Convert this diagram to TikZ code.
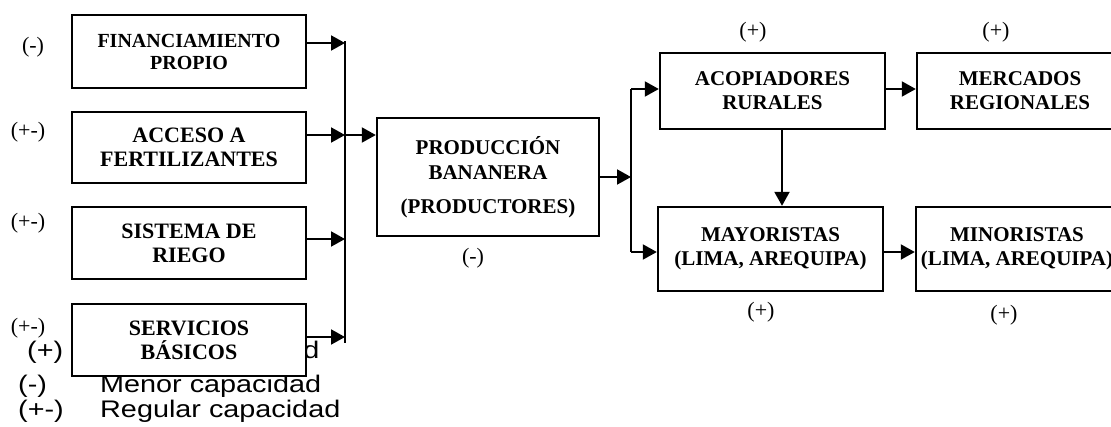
\documentclass[tikz,border=0pt]{standalone}
\usepackage{fontspec}
\setmainfont{Liberation Serif}
\newfontfamily\legendfont{Liberation Sans}
\usetikzlibrary{arrows.meta}

\tikzset{
  box/.style={draw, line width=2.4pt, fill=white, rectangle, inner sep=0pt,
    align=center, font=\bfseries\fontsize{21}{24}\selectfont},
  inbox/.style={box, minimum width=234pt, font=\bfseries\fontsize{22}{24}\selectfont},
  sign/.style={font=\fontsize{22}{24}\selectfont, inner sep=0pt},
  flow/.style={line width=2pt, -{Triangle[length=14pt,width=15pt]}},
  bar/.style={line width=2pt}
}

\begin{document}
\begin{tikzpicture}[x=1pt,y=-1pt]
\useasboundingbox (0,0) rectangle (1111,426);
\clip (0,0) rectangle (1111,426);

% Legend (drawn first, the last box sits over it)
\node[anchor=base west, inner sep=0pt] (l1) at (27,358) {\legendfont\fontsize{24}{26}\selectfont\scalebox{1.2}[1]{(+)}};
\node[anchor=base west, inner sep=0pt] (l2) at (18,392) {\legendfont\fontsize{24}{26}\selectfont\scalebox{1.2}[1]{(-)}};
\node[anchor=base west, inner sep=0pt] (l3) at (18,417) {\legendfont\fontsize{24}{26}\selectfont\scalebox{1.2}[1]{(+-)}};
\node[anchor=base west, inner sep=0pt] (t1) at (100,358) {\legendfont\fontsize{24}{26}\selectfont\scalebox{1.2}[1]{Mayor capacidad}};
\node[anchor=base west, inner sep=0pt] (t2) at (100,392) {\legendfont\fontsize{24}{26}\selectfont\scalebox{1.2}[1]{Menor capacidad}};
\node[anchor=base west, inner sep=0pt] (t3) at (100,417) {\legendfont\fontsize{24}{26}\selectfont\scalebox{1.2}[1]{Regular capacidad}};

% Left column of inputs
\node[inbox, minimum height=73pt, font=\bfseries\fontsize{20}{22}\selectfont] (fin) at (189,51.5) {FINANCIAMIENTO\\PROPIO};
\node[inbox, minimum height=71pt] (acc) at (189,147.5) {ACCESO A\\FERTILIZANTES};
\node[inbox, minimum height=72pt] (rie) at (189,243) {SISTEMA DE\\RIEGO};
\node[inbox, minimum height=72pt] (ser) at (189,340) {SERVICIOS\\BÁSICOS};

\node[sign] (sfin) at (33,47) {(-)};
\node[sign] (sacc) at (28,132) {(+-)};
\node[sign] (srie) at (28,223) {(+-)};
\node[sign] (sser) at (28,328) {(+-)};

% Production
\node[box, minimum width=222pt, minimum height=118pt, font=\bfseries\fontsize{21}{25}\selectfont] (prod) at (488,177) {PRODUCCIÓN\\BANANERA\\[9pt](PRODUCTORES)};
\node[sign] (sprod) at (473,258) {(-)};

% Marketing chain
\node[box, minimum width=225pt, minimum height=76pt] (acop) at (772.5,91) {ACOPIADORES\\RURALES};
\node[box, minimum width=206pt, minimum height=76pt] (merc) at (1020,91) {MERCADOS\\REGIONALES};
\node[box, minimum width=225pt, minimum height=84pt] (may) at (770.5,249) {MAYORISTAS\\(LIMA, AREQUIPA)};
\node[box, minimum width=202pt, minimum height=84pt] (min) at (1017,249) {MINORISTAS\\(LIMA, AREQUIPA)};

\node[sign] (sacop) at (753,32) {(+)};
\node[sign] (smerc) at (996,32) {(+)};
\node[sign] (smay) at (761,312) {(+)};
\node[sign] (smin) at (1004,315) {(+)};

% Collecting bar
\coordinate (busT) at (345,41);
\coordinate (busB) at (345,343);
\coordinate (b1) at (345,43);
\coordinate (b2) at (345,135);
\coordinate (b3) at (345,239);
\coordinate (b4) at (345,337);
\draw[bar] (busT) -- (busB);
\draw[flow] (fin.east |- b1) -- (b1);
\draw[flow] (acc.east |- b2) -- (b2);
\draw[flow] (rie.east |- b3) -- (b3);
\draw[flow] (ser.east |- b4) -- (b4);
\draw[flow] (b2) -- (prod.west |- b2);

% Splitting bar
\coordinate (s0) at (631,177);
\coordinate (s1) at (631,89);
\coordinate (s2) at (631,252);
\draw[flow] (prod.east |- s0) -- (s0);
\draw[bar] (s1) -- (s2);
\draw[flow] (s1) -- (acop.west |- s1);
\draw[flow] (s2) -- (may.west |- s2);

% Right side
\draw[flow] (acop.east |- s1) -- (merc.west |- s1);
\draw[flow] ([xshift=9.5pt]acop.south) -- ([xshift=9.5pt]acop.south |- may.north);
\draw[flow] (may.east |- s2) -- (min.west |- s2);
\end{tikzpicture}
\end{document}
